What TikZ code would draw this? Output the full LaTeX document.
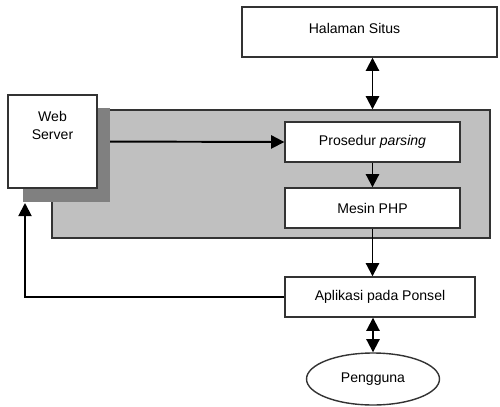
\documentclass[tikz,border=0pt]{standalone}
\usepackage{fontspec}
\setmainfont{Liberation Sans}
\usepackage{tikz}
\usetikzlibrary{positioning,
                arrows.meta,                % arrow tips
                shapes.geometric}           % ellipse

\definecolor{panelgray}{HTML}{C0C0C0}
\definecolor{shadowgray}{HTML}{808080}
\definecolor{edge}{HTML}{333333}

\tikzset{
    box/.style={draw=edge, line width=0.8pt, fill=white, inner sep=2pt},
    flow/.style={line width=1.1pt, -{Triangle[width=7.5pt,length=7.5pt]}},
    twoway/.style={line width=1.1pt, {Triangle[width=7.5pt,length=7.5pt]}-{Triangle[width=7.5pt,length=7.5pt]}},
}

\begin{document}
\begin{tikzpicture}[x=0.02cm, y=-0.02cm, font=\fontsize{8}{10}\selectfont]
    \useasboundingbox (0,0) rectangle (500,406);

    % grey panel with the server parts
    \node[draw=edge, line width=0.8pt, fill=panelgray, minimum width=8.76cm, minimum height=2.56cm] (panel) at (271,174) {};
    \node[box, minimum width=3.5cm, minimum height=0.8cm] (prosedur) at (372.5,142) {Prosedur \textit{parsing}};
    \node[box, minimum width=3.5cm, minimum height=0.8cm] (mesin) at (372.5,208) {Mesin PHP};
    \coordinate (wsout) at (97,141.5);
    \draw[flow] (wsout) -- (prosedur.west);

    \fill[shadowgray] (23,108) rectangle (110,202);
    \node[box, minimum width=1.78cm, minimum height=1.86cm,
          label={[anchor=north, yshift=-0.22cm, align=center]north:Web\\Server}] (ws) at (52.5,141.5) {};

    \node[box, minimum width=5.1cm, minimum height=1.0cm,
          label={[anchor=north, yshift=-0.22cm, xshift=-0.3cm]north:Halaman Situs}] (halaman) at (369.5,32) {};
    \node[box, minimum width=3.8cm, minimum height=0.8cm] (aplikasi) at (380,297) {Aplikasi pada Ponsel};
    \node[box, ellipse, minimum width=2.66cm, minimum height=1.04cm] (pengguna) at (373,379) {Pengguna};

    \coordinate (wsin) at (25,203);

    \draw[twoway] (prosedur.north |- halaman.south) -- (prosedur.north |- panel.north);
    \draw[flow] (prosedur.south) -- (mesin.north);
    \draw[flow] (mesin.south) -- (mesin.south |- aplikasi.north);
    \draw[flow] (aplikasi.west) -| (wsin);
    \draw[twoway] (pengguna.north |- aplikasi.south) -- (pengguna.north);
\end{tikzpicture}
\end{document}
